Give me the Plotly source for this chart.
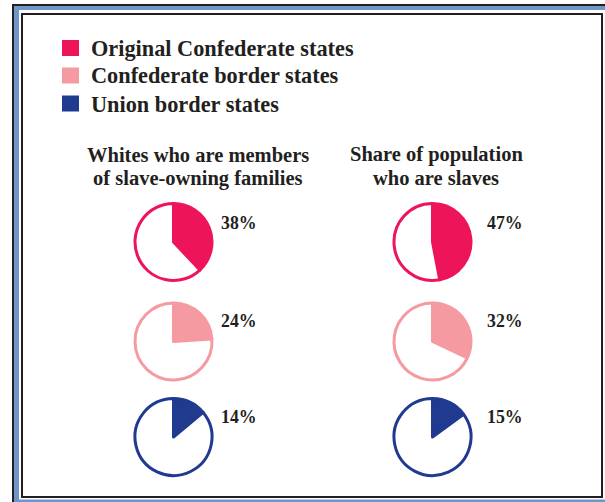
import plotly.graph_objects as go

W, H = 605, 502

# ---- data ----
groups = ["Original Confederate states", "Confederate border states", "Union border states"]
colors = ["#EE1459", "#F59AA0", "#1F3A8F"]
whites_slave_families = [38, 24, 14]
share_slaves = [47, 32, 15]
titles = [["Whites who are members", "of slave-owning families"],
          ["Share of population", "who are slaves"]]

TXT = "#231F20"
FONT = "Liberation Serif"

def px(x):
    return x / W

def py(y):
    return 1 - y / H

fig = go.Figure()

col_cx = [173.5, 432.5]
row_cy = [242, 341.5, 437]
R = 38.5
series = [whites_slave_families, share_slaves]

for ci, vals in enumerate(series):
    for ri, v in enumerate(vals):
        cx, cy = col_cx[ci], row_cy[ri]
        fig.add_trace(go.Pie(
            values=[v, 100 - v],
            marker=dict(colors=[colors[ri], "#FFFFFF"],
                        line=dict(color=colors[ri], width=3)),
            sort=False, direction="clockwise", rotation=0,
            textinfo="none", hoverinfo="skip", showlegend=False,
            domain=dict(x=[px(cx - R), px(cx + R)], y=[py(cy + R), py(cy - R)]),
        ))

shapes = []
def rect(x0, y0, x1, y1, color):
    shapes.append(dict(type="rect", xref="paper", yref="paper",
                       x0=px(x0), x1=px(x1), y0=py(y1), y1=py(y0),
                       fillcolor=color, line=dict(width=0), layer="below"))

rect(12, 4, 800, 800, "#231F20")
rect(14, 6, 800, 800, "#6E96C9")
rect(19, 10, 800, 499.5, "#FFFFFF")
rect(21, 13, 603, 498, "#231F20")
rect(23, 15, 601, 496, "#FFFFFF")

annotations = []
def text(x, y, s, size, xanchor="left"):
    annotations.append(dict(xref="paper", yref="paper", x=px(x), y=py(y),
                            text=s, showarrow=False, xanchor=xanchor, yanchor="middle",
                            font=dict(family=FONT, size=size, color=TXT, weight="bold")))

# legend
leg_y = [48, 75.5, 103.5]
for i, g in enumerate(groups):
    rect(62, leg_y[i] - 8, 79, leg_y[i] + 8, colors[i])
    text(89, leg_y[i] + 0.5, g, 22.3)

# titles
title_cx = [198, 436]
for ci, lines in enumerate(titles):
    text(title_cx[ci], 155, lines[0], 20.5, "center")
    text(title_cx[ci], 178, lines[1], 20.5, "center")

# percentages
lab_x = [219, 485]
lab_y = [223, 321, 417]
for ci, vals in enumerate(series):
    for ri, v in enumerate(vals):
        text(lab_x[ci], lab_y[ri], f"{v}%", 17.8)

fig.update_layout(width=W, height=H, margin=dict(l=0, r=0, t=0, b=0),
                  paper_bgcolor="white", plot_bgcolor="white",
                  shapes=shapes, annotations=annotations, showlegend=False)

fig.write_html("out.html", config={"displayModeBar": False},
               post_script="document.body.style.margin='0';document.body.style.overflow='hidden';")
